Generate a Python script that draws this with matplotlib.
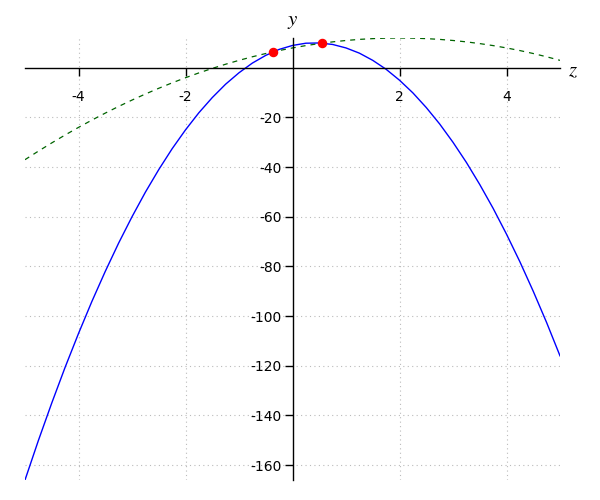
import numpy as np
import matplotlib.pyplot as plt

plt.rcParams['mathtext.fontset'] = 'stix'

# curve samples (step 0.25 in z)
zs = [-5, -4.75, -4.5, -4.25, -4, -3.75, -3.5, -3.25, -3, -2.75, -2.5,
      -2.25, -2, -1.75, -1.5, -1.25, -1, -0.75, -0.5, -0.25, 0,
      0.25, 0.5, 0.75, 1, 1.25, 1.5, 1.75, 2, 2.25, 2.5,
      2.75, 3, 3.25, 3.5, 3.75, 4, 4.25, 4.5, 4.75, 5]
blue_y = [-166, -150.1, -135, -120.6, -107, -94.1, -82, -70.6, -60, -50.1, -41,
          -32.6, -25, -18.1, -12, -6.6, -2, 1.9, 5, 7.4, 9,
          9.9, 10, 9.4, 8, 5.9, 3, -0.6, -5, -10.1, -16,
          -22.6, -30, -38.1, -47, -56.6, -67, -78.1, -90, -102.6, -116]
green_y = [-37, -33.56, -30.25, -27.06, -24, -21.06, -18.25, -15.56, -13, -10.56, -8.25,
           -6.06, -4, -2.06, -0.25, 1.44, 3, 4.44, 5.75, 6.94, 8,
           8.94, 9.75, 10.44, 11, 11.44, 11.75, 11.94, 12, 11.94, 11.75,
           11.44, 11, 10.44, 9.75, 8.94, 8, 6.94, 5.75, 4.44, 3]
pts_z = [-0.36, 0.56]
pts_y = [6.4, 9.9]

xticks = [-4, -2, 2, 4]
yticks = [-20, -40, -60, -80, -100, -120, -140, -160]

fig = plt.figure(figsize=(6, 5), dpi=100)
ax = fig.add_axes([25/600, 20/500, 535/600, 442/500])

ax.plot(zs, blue_y, color='blue', lw=1)
ax.plot(zs, green_y, color='darkgreen', lw=0.9, ls=(0, (4, 4)))
ax.scatter(pts_z, pts_y, s=34, color='red', zorder=5)

ax.set_xlim(-5, 5)
ax.set_ylim(-166, 12)

for s in ['top', 'right']:
    ax.spines[s].set_visible(False)
ax.spines['left'].set_position(('data', 0))
ax.spines['bottom'].set_position(('data', 0))
ax.spines['left'].set_linewidth(1)
ax.spines['bottom'].set_linewidth(1)

ax.set_xticks(xticks)
ax.set_yticks(yticks)
ax.set_xticklabels([str(t) for t in xticks])
ax.set_yticklabels([str(t) for t in yticks])
ax.tick_params(axis='both', direction='out', length=6, width=1, labelsize=10,
               colors='black', pad=10)
ax.tick_params(axis='y', pad=2)

ax.grid(True, color='#bbbbbb', ls=(0, (1, 3)), lw=0.8)

ax.text(5.24, -1, '$z$', fontsize=15, ha='center', va='center')
ax.text(0, 19, '$y$', fontsize=15, ha='center', va='center')

fig.savefig('out.png', dpi=100)
